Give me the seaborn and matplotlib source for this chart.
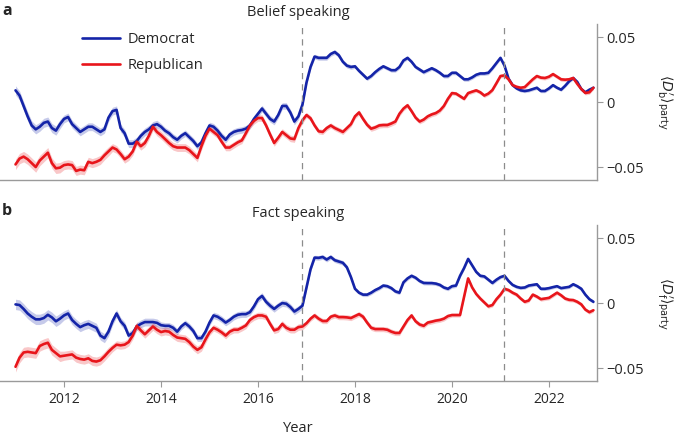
import numpy as np
import pandas as pd
import seaborn as sns
import matplotlib.pyplot as plt

# monthly values, Jan 2011 .. Dec 2022 (x1000)
belief_dem = [
    9, 5, -3, -11, -18, -21, -19, -16, -15, -20, -22, -17,
    -13, -11.5, -17, -20, -23, -21, -19, -19, -21, -23, -21, -12,
    -7, -6, -20, -24, -32, -32, -30, -26, -23, -21, -18, -17,
    -19, -22, -24, -27, -29, -26, -24, -27, -30, -34, -31, -24,
    -18, -19, -22, -26, -29, -25, -23, -22, -21.5, -20.5, -18, -13,
    -9, -5, -9, -13, -15, -10, -3, -3, -8, -15, -11, -2,
    15, 27, 35, 34, 34, 34, 37, 38.5, 36, 31, 28, 27,
    27.5, 24, 21, 18, 20, 23, 25.5, 27.5, 26, 24.5, 24.5, 27,
    32, 34, 31, 27, 25, 23, 24.5, 26, 24.5, 22.5, 20, 20,
    22.5, 22.5, 20, 17.5, 17.5, 19, 21, 22, 22, 22.5, 26, 30,
    34, 28, 18, 13, 10.5, 9, 8.5, 9, 10, 11, 8.5, 8.5,
    10.5, 13, 11, 9.5, 12.5, 16, 18.5, 15.5, 10, 7.5, 9.5, 11,
]
belief_rep = [
    -48, -43.5, -42, -44, -47, -50, -45, -42, -39, -47, -51, -50.5,
    -48.5, -48, -48.5, -53, -52, -52.5, -46, -47, -46, -44.5, -41, -38,
    -35, -36.5, -40, -44, -42, -38, -30.5, -34, -31.5, -26, -19, -23,
    -25.5, -28.5, -31.5, -34, -35, -35, -35, -37, -40, -43, -34, -26,
    -20.5, -23, -25.5, -30.5, -35, -35, -33, -31, -29.5, -24, -18, -14.5,
    -12.3, -12.3, -18, -25, -31.5, -27.5, -23, -25.5, -28, -28.5, -20, -14,
    -10, -12.5, -18, -22.5, -23, -20, -18, -20, -21.5, -23, -20, -17,
    -11, -8, -13, -17.5, -20.5, -19.5, -18, -17.7, -17.7, -16.5, -15, -9,
    -5, -2.5, -7, -12, -15, -13.5, -11, -9.5, -8.5, -6.5, -3, 2.5,
    6.9, 6.5, 4.5, 2.5, 6.9, 8, 9, 7.5, 5, 6.5, 9.2, 14.5,
    20, 20.5, 17.5, 13, 11.7, 11, 11.5, 14.5, 17.5, 20, 18.8, 18.5,
    19.5, 21.5, 19.5, 17.5, 17.2, 17.5, 18.5, 14, 10, 7, 7.5, 11,
]
fact_dem = [
    -1, -1.5, -4.5, -8, -10.5, -12.5, -12.5, -11.5, -9, -11, -14, -12,
    -9.5, -8, -13, -16, -18.5, -17, -16, -17.5, -19, -25, -27, -22,
    -14, -8, -14, -17.5, -25, -23, -18, -16, -14.6, -14.6, -14.6, -15.2,
    -17, -17.5, -17.5, -19, -22, -18, -15.5, -18, -21.5, -27, -27, -22,
    -15, -9.5, -10.5, -12.5, -15, -13, -10.5, -9, -8.5, -8.5, -7, -2.5,
    3, 5.5, 1, -2, -4.5, -2, 0, -0.5, -3, -6.5, -4.5, -2,
    12, 26, 35, 34.8, 35.5, 33.5, 35.5, 33, 32, 31, 27.5, 20,
    11, 8, 6.5, 6.5, 8, 10, 11.5, 13.5, 13, 11.5, 9, 8,
    16, 19, 21, 19.5, 17, 15.5, 15.4, 15.4, 15, 14, 12, 11,
    13, 13.5, 21, 27, 34, 29, 24, 21, 20.5, 18, 15.5, 18,
    20, 21, 17, 14, 12.5, 11.7, 12, 13.5, 14, 14.5, 11, 11,
    11.5, 12.3, 13, 11.5, 12, 12.5, 14.5, 13, 11, 6.5, 3, 1,
]
fact_rep = [
    -49, -42, -38, -37.5, -38, -38.5, -33, -31.5, -30.5, -36, -38.5, -41,
    -40.5, -40, -39.5, -42, -43, -43.5, -42.5, -44.5, -45, -44, -41, -37.5,
    -34.5, -32, -32.5, -32, -30, -25, -17.5, -21, -24, -21, -18, -20.5,
    -22.3, -21.5, -22, -24.5, -26.5, -27, -27.5, -30, -33.5, -36, -34, -28,
    -22.5, -19, -20.5, -22.5, -25, -22, -20.5, -20.5, -19, -17.2, -13, -10.8,
    -9.5, -9.5, -10.5, -16, -21, -20, -16, -19, -20.5, -20.5, -18.5, -18,
    -15.5, -12, -9.5, -12, -13.8, -13.8, -10.5, -9.5, -10.8, -10.8, -11, -11.5,
    -10, -8.5, -10.5, -15, -19, -20, -20, -20, -20.5, -22, -23, -23,
    -18, -13, -9.5, -14, -16.5, -17.5, -15, -14.3, -13.5, -13, -12, -10,
    -9.2, -9.2, -9.2, 5, 19, 12, 7, 3.5, 0.5, -2.5, -1.5, 3,
    6.5, 11, 10, 8, 6.5, 3.5, 1, 2, 6.5, 5, 3, 3.5,
    4, 6, 8, 6, 3.5, 2.5, 2.3, 1, -1, -5, -7, -5.5,
]

# half-width of the shaded band, per year 2011..2022 (x1000)
band_belief_dem = [3.5, 3, 3, 2.5, 2.5, 2.5, 1.8, 1.5, 1.5, 1.5, 1.3, 1.3]
band_belief_rep = [4, 3.5, 3, 3, 2.5, 2.5, 2, 2, 1.8, 1.5, 1.5, 1.5]
band_fact_dem = [4, 3.5, 3, 2.5, 2.5, 2.5, 1.8, 1.5, 1.5, 1.5, 1.3, 1.3]
band_fact_rep = [4, 3.5, 3, 3, 2.5, 2.5, 2, 2, 1.8, 1.5, 1.5, 1.5]

xticks = [2012, 2014, 2016, 2018, 2020, 2022]
yticks = [-0.05, 0, 0.05]
ytick_labels = ['\u22120.05', '0', '0.05']
events = [2016.9, 2021.08]

blue = '#1424a8'
red = '#e8151b'

sns.set_style('white')
plt.rcParams['font.family'] = ['Open Sans', 'DejaVu Sans']
plt.rcParams['mathtext.fontset'] = 'dejavusans'

year = 2011 + np.arange(144) / 12

fig = plt.figure(figsize=(6.85, 4.38), dpi=100)
ax1 = fig.add_axes([0.0, 0.589, 0.8715, 0.356])
ax2 = fig.add_axes([0.0, 0.130, 0.8715, 0.356])

panels = [
    (ax1, belief_dem, belief_rep, band_belief_dem, band_belief_rep,
     'Belief speaking', 'a', 0.975,
     r'$\langle D^{\prime}_{\mathrm{b}}\rangle_{\mathrm{party}}$'),
    (ax2, fact_dem, fact_rep, band_fact_dem, band_fact_rep,
     'Fact speaking', 'b', 0.518,
     r'$\langle D^{\prime}_{\mathrm{f}}\rangle_{\mathrm{party}}$'),
]

for ax, dem, rep, bdem, brep, title, tag, tag_y, ylab in panels:
    df = pd.DataFrame({
        'year': np.concatenate([year, year]),
        'value': np.array(dem + rep) / 1000,
        'party': ['Democrat'] * 144 + ['Republican'] * 144,
    })
    for vals, band, col in [(dem, bdem, blue), (rep, brep, red)]:
        v = np.array(vals) / 1000
        b = np.repeat(band, 12) / 1000
        ax.fill_between(year, v - b, v + b, color=col, alpha=0.24, lw=0)
    sns.lineplot(data=df, x='year', y='value', hue='party',
                 palette={'Democrat': blue, 'Republican': red},
                 lw=1.9, ax=ax, legend=(tag == 'a'))
    for e in events:
        ax.axvline(e, color='#8c8c8c', lw=0.9, ls=(0, (5, 4)))

    ax.set_xlim(2010.68, 2022.99)
    ax.set_ylim(-0.06, 0.06)
    ax.yaxis.tick_right()
    ax.yaxis.set_label_position('right')
    ax.set_yticks(yticks)
    ax.set_yticklabels(ytick_labels)
    ax.set_ylabel(ylab, rotation=270, labelpad=22, fontsize=10)
    ax.set_xticks(xticks)
    for s in ['left', 'top']:
        ax.spines[s].set_visible(False)
    for s in ['right', 'bottom']:
        ax.spines[s].set_color('#9a9a9a')
        ax.spines[s].set_linewidth(1.0)
    ax.tick_params(axis='y', right=True, length=4, color='#9a9a9a',
                   labelsize=10.5, pad=3)
    ax.tick_params(axis='x', bottom=True, length=4, color='#9a9a9a',
                   labelsize=10, pad=4)
    ax.set_title(title, fontsize=10.5, pad=6)
    fig.text(0.003, tag_y, tag, fontsize=11.5, fontweight='bold',
             va='center', ha='left')

ax1.set_xlabel('')
ax1.tick_params(axis='x', bottom=False, labelbottom=False)
ax2.set_xlabel('Year', fontsize=10.5, labelpad=10)

leg = ax1.legend(loc='upper left', bbox_to_anchor=(0.115, 1.035), frameon=False,
                 fontsize=10.5, handlelength=2.6, labelspacing=0.75,
                 handletextpad=0.55)
for line in leg.get_lines():
    line.set_linewidth(1.9)

fig.savefig('out.png', dpi=100)
